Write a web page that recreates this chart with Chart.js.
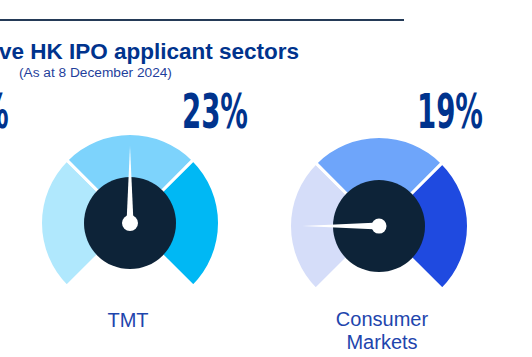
<!DOCTYPE html>
<html>
<head>
<meta charset="utf-8">
<script src="https://cdn.jsdelivr.net/npm/chart.js@4.4.1/dist/chart.umd.min.js"></script>
<style>
  html, body { margin: 0; padding: 0; background: #fff; }
  body { width: 532px; height: 357px; position: relative; overflow: hidden; font-family: "Liberation Sans", Arial, sans-serif; }
  .rule { position: absolute; left: 0; top: 19px; width: 404px; height: 2px; background: #243a57; }
  .title { position: absolute; left: -1px; top: 40.5px; font-size: 22.5px; line-height: 22.5px; font-weight: bold; color: #00338d; white-space: nowrap; }
  .sub { position: absolute; left: 19px; top: 66px; font-size: 13.7px; line-height: 13.7px; color: #1f3f9c; white-space: nowrap; }
  .pct { position: absolute; font-family: "Liberation Sans Narrow", "DejaVu Sans Condensed", "Liberation Sans", sans-serif; font-weight: bold; color: #00338d; font-size: 48px; line-height: 48px; white-space: nowrap; transform-origin: 0 0; }
  .lbl { position: absolute; width: 200px; text-align: center; font-size: 20px; line-height: 23px; color: #1e45ad; }
  canvas { position: absolute; }
</style>
</head>
<body>
<div class="rule"></div>
<div class="title">ve HK IPO applicant sectors</div>
<div class="sub">(As at 8 December 2024)</div>
<div id="texts"></div>
<canvas id="g0" width="200" height="200"></canvas>
<canvas id="g1" width="200" height="200"></canvas>
<script>
// ---- data ----
const sectors = ['TMT', 'Consumer Markets'];
const shares = [23, 19];              // headline percentages
const needleValues = [50, 16.7];      // needle position on a 0-100 dial
const bandValues = [1, 1, 1];         // three equal dial bands
const hiddenShareSuffix = '%';        // cut-off figure at left edge

// ---- styling / layout ----
const bandColors = [
  ['#b0e8fd', '#7dd3fc', '#00b8f4'],
  ['#d5ddf9', '#6ea5fa', '#1f4ae0']
];
const centers = [[130, 223], [379, 226]];
const pctPos = [[182, 87], [417, 87]];
const labelCenters = [[128, 309], [382, 308]];

const texts = document.getElementById('texts');
// left cut-off "%"
const cut = document.createElement('div');
cut.className = 'pct';
cut.textContent = hiddenShareSuffix;
texts.appendChild(cut);

shares.forEach((v, i) => {
  const d = document.createElement('div');
  d.className = 'pct';
  d.textContent = v + '%';
  texts.appendChild(d);
  const w = d.getBoundingClientRect().width;
  const s = 66 / w;
  d.style.left = pctPos[i][0] + 'px';
  d.style.top = pctPos[i][1] + 'px';
  d.style.transform = 'scaleX(' + s + ')';
  if (i === 0) {
    const cw = cut.getBoundingClientRect().width * s;
    cut.style.transform = 'scaleX(' + s + ')';
    cut.style.left = (9 - cw) + 'px';
    cut.style.top = pctPos[i][1] + 'px';
  }
  const l = document.createElement('div');
  l.className = 'lbl';
  l.innerHTML = sectors[i].split(' ').join('<br>');
  l.style.left = (labelCenters[i][0] - 100) + 'px';
  l.style.top = labelCenters[i][1] + 'px';
  texts.appendChild(l);
});

const gaugePlugin = {
  id: 'gaugeHub',
  afterDatasetsDraw(chart) {
    const o = chart.options.plugins.gaugeHub;
    const arc = chart.getDatasetMeta(0).data[0];
    const cx = arc.x, cy = arc.y;
    const ctx = chart.ctx;
    ctx.save();
    ctx.fillStyle = '#0d2338';
    ctx.beginPath();
    ctx.arc(cx, cy, o.hubRadius, 0, Math.PI * 2);
    ctx.fill();
    // needle
    const ang = (-135 + 270 * o.value / 100) * Math.PI / 180; // from top, clockwise
    const dx = Math.sin(ang), dy = -Math.cos(ang);
    const px = -dy, py = dx;
    const tipX = cx + dx * o.length, tipY = cy + dy * o.length;
    ctx.fillStyle = '#ffffff';
    ctx.beginPath();
    ctx.moveTo(tipX, tipY);
    ctx.lineTo(cx + px * o.base, cy + py * o.base);
    ctx.lineTo(cx - px * o.base, cy - py * o.base);
    ctx.closePath();
    ctx.fill();
    ctx.beginPath();
    ctx.arc(cx, cy, o.capRadius, 0, Math.PI * 2);
    ctx.fill();
    ctx.restore();
  }
};

sectors.forEach((s, i) => {
  const cv = document.getElementById('g' + i);
  const chart = new Chart(cv, {
    type: 'doughnut',
    data: {
      labels: ['low', 'mid', 'high'],
      datasets: [{
        data: bandValues,
        backgroundColor: bandColors[i],
        borderColor: '#ffffff',
        borderWidth: 3
      }]
    },
    options: {
      responsive: false,
      animation: false,
      events: [],
      circumference: 270,
      rotation: -135,
      radius: 89.5,
      cutout: 45,
      layout: { padding: 0 },
      plugins: {
        legend: { display: false },
        tooltip: { enabled: false },
        gaugeHub: { value: needleValues[i], hubRadius: 46, length: 77, base: 3.5, capRadius: i === 0 ? 8 : 7.5 }
      }
    },
    plugins: [gaugePlugin]
  });
  const arc = chart.getDatasetMeta(0).data[0];
  cv.style.left = (centers[i][0] - arc.x) + 'px';
  cv.style.top = (centers[i][1] - arc.y) + 'px';
});
</script>
</body>
</html>
